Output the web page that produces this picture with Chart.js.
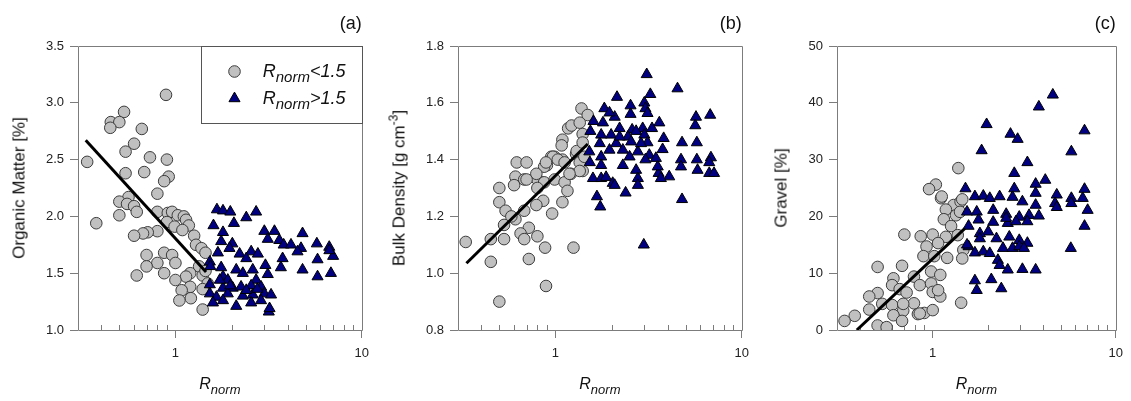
<!DOCTYPE html>
<html lang="en">
<head>
<meta charset="utf-8">
<title>Rnorm scatter panels</title>
<script src="https://cdn.jsdelivr.net/npm/chart.js@4.4.1/dist/chart.umd.min.js"></script>
<style>
    html, body { margin: 0; padding: 0; background: #ffffff; }
    #figure { position: relative; width: 1131px; height: 401px; overflow: hidden;
              font-family: "Liberation Sans", Arial, sans-serif; color: #111; }
    .panel { position: absolute; top: 0; height: 401px; }
    .panel canvas { position: absolute; left: 0; top: 0; }
    .txt { position: absolute; white-space: nowrap; line-height: 1; }
    .ytitle { font-size: 17px; transform: translate(-50%, -50%) rotate(-90deg); }
    .xtitle { font-size: 16px; font-style: italic; transform: translateX(-50%); }
    .tag { font-size: 18px; transform: translateX(-100%); }
    .legend-item { font-size: 18px; font-style: italic; }
    .sub { font-size: 13px; position: relative; top: 5px; }
    .legend-item .sub { font-size: 15px; top: 5px; }
    .sup { font-size: 12px; position: relative; top: -7px; }
</style>
</head>
<body>
<div id="figure"></div>
<script>
// tick values
const xMajorTicks = [1, 10];
const xMinorTicks = [0.4, 0.5, 0.6, 0.7, 0.8, 0.9, 2, 3, 4, 5, 6, 7, 8, 9];
const omTicks = [1.0, 1.5, 2.0, 2.5, 3.0, 3.5];
const bdTicks = [0.8, 1.0, 1.2, 1.4, 1.6, 1.8];
const grTicks = [0, 10, 20, 30, 40, 50];

// (a) organic matter, Rnorm < 1.5
const omLowR = [0.89, 0.53, 0.45, 0.50, 0.447, 0.66, 0.60, 0.54, 0.336, 0.73,
    0.90, 0.54, 0.68, 0.92, 0.87, 0.80, 0.56, 0.50, 0.55, 0.60,
    0.50, 0.62, 0.80, 0.91, 0.96, 1.03, 1.11, 0.376, 1.14, 1.18,
    0.90, 0.99, 1.09, 0.80, 0.71, 0.67, 0.60, 1.26, 1.29, 1.38,
    1.45, 0.70, 0.87, 0.96, 1.00, 0.80, 0.70, 1.34, 0.62, 0.87,
    1.20, 1.14, 1.00, 1.40, 1.49, 1.20, 1.08, 1.40, 1.21, 1.05,
    1.40, 1.45];
const omLowVal = [3.07, 2.92, 2.83, 2.83, 2.78, 2.77, 2.64, 2.57, 2.48, 2.52,
    2.50, 2.38, 2.39, 2.35, 2.31, 2.20, 2.17, 2.13, 2.11, 2.09,
    2.01, 2.04, 2.04, 2.03, 2.04, 2.01, 2.00, 1.94, 1.97, 1.92,
    1.95, 1.91, 1.88, 1.87, 1.86, 1.85, 1.83, 1.83, 1.75, 1.72,
    1.68, 1.66, 1.68, 1.66, 1.59, 1.59, 1.56, 1.56, 1.48, 1.50,
    1.50, 1.47, 1.44, 1.48, 1.41, 1.38, 1.35, 1.36, 1.28, 1.26,
    1.18, 1.52];
// (a) organic matter, Rnorm > 1.5
const omHighR = [1.67, 1.80, 1.97, 2.40, 2.71, 1.60, 2.06, 1.80, 3.00, 3.40,
    4.81, 1.76, 2.02, 3.13, 3.61, 3.81, 4.17, 4.72, 5.74, 6.69,
    7.02, 6.70, 1.69, 1.95, 2.21, 2.55, 2.77, 2.40, 3.76, 4.52,
    5.79, 1.53, 1.76, 2.12, 2.60, 3.04, 3.68, 4.81, 5.79, 6.83,
    1.54, 1.80, 2.30, 3.13, 1.91, 2.71, 1.53, 1.80, 2.03, 2.25,
    2.55, 2.88, 3.00, 3.26, 1.53, 1.66, 1.91, 2.30, 2.60, 1.59,
    1.80, 2.12, 2.55, 2.88, 3.17, 3.20, 1.97, 1.73, 2.40, 2.75];
const omHighVal = [2.06, 2.05, 2.04, 1.99, 2.04, 1.92, 1.94, 1.86, 1.87, 1.87,
    1.85, 1.78, 1.76, 1.80, 1.79, 1.75, 1.75, 1.72, 1.76, 1.73,
    1.65, 1.70, 1.68, 1.72, 1.67, 1.69, 1.67, 1.63, 1.63, 1.69,
    1.62, 1.60, 1.55, 1.53, 1.53, 1.57, 1.55, 1.53, 1.47, 1.50,
    1.56, 1.47, 1.50, 1.49, 1.44, 1.44, 1.40, 1.37, 1.37, 1.38,
    1.39, 1.38, 1.32, 1.31, 1.32, 1.29, 1.32, 1.30, 1.31, 1.24,
    1.26, 1.21, 1.24, 1.26, 1.16, 1.19, 1.39, 1.44, 1.35, 1.36];
const omFitR = [0.33, 1.46];
const omFitVal = [2.67, 1.51];

// (b) bulk density, Rnorm < 1.5
const bdLowR = [0.62, 0.70, 0.90, 0.87, 0.99, 1.09, 0.95, 1.29, 0.61, 0.68,
    0.60, 0.80, 0.87, 0.99, 0.80, 1.12, 1.21, 1.40, 0.50, 1.16,
    0.86, 0.50, 1.09, 0.79, 0.54, 0.61, 0.68, 0.58, 0.96, 0.53,
    0.72, 0.65, 0.33, 0.45, 0.53, 0.68, 0.80, 0.88, 1.25, 0.45,
    0.72, 0.89, 0.50, 1.38, 1.49, 1.17, 1.22, 1.35, 1.40, 1.09,
    1.08, 0.97, 1.03, 1.12, 1.30, 1.35, 1.43, 1.35, 1.19, 0.89,
    0.79, 0.70, 1.40];
const bdLowVal = [1.39, 1.39, 1.38, 1.375, 1.41, 1.40, 1.41, 1.42, 1.34, 1.33,
    1.31, 1.33, 1.32, 1.33, 1.30, 1.32, 1.35, 1.36, 1.30, 1.29,
    1.255, 1.25, 1.25, 1.24, 1.22, 1.19, 1.22, 1.20, 1.21, 1.17,
    1.16, 1.14, 1.11, 1.12, 1.12, 1.12, 1.13, 1.09, 1.09, 1.04,
    1.05, 0.955, 0.90, 1.58, 1.557, 1.51, 1.52, 1.53, 1.49, 1.47,
    1.45, 1.41, 1.40, 1.39, 1.43, 1.39, 1.41, 1.36, 1.35, 1.39,
    1.35, 1.33, 1.46];
// (b) bulk density, Rnorm > 1.5
const bdHighR = [3.09, 4.52, 3.23, 2.14, 1.83, 2.53, 3.00, 3.04, 2.53, 2.08,
    1.95, 5.68, 6.77, 5.63, 1.60, 1.80, 2.21, 2.58, 2.94, 3.30,
    3.61, 1.54, 1.76, 1.99, 2.45, 2.71, 3.00, 3.12, 3.81, 4.78,
    5.74, 1.73, 2.12, 2.55, 1.95, 2.30, 2.77, 3.19, 3.76, 1.52,
    1.76, 1.53, 2.50, 3.04, 3.46, 4.72, 5.74, 6.83, 6.69, 2.30,
    4.72, 1.76, 2.71, 3.58, 4.08, 5.79, 6.69, 7.10, 1.59, 1.76,
    1.87, 2.03, 2.08, 2.77, 2.77, 3.68, 2.38, 1.67, 1.74, 4.78,
    2.98, 3.12, 2.88, 2.21, 3.54];
const bdHighVal = [1.70, 1.65, 1.63, 1.62, 1.58, 1.59, 1.60, 1.58, 1.56, 1.55,
    1.565, 1.55, 1.557, 1.52, 1.535, 1.53, 1.51, 1.505, 1.51, 1.51,
    1.53, 1.50, 1.487, 1.487, 1.48, 1.50, 1.487, 1.46, 1.475, 1.46,
    1.46, 1.457, 1.457, 1.463, 1.434, 1.434, 1.428, 1.416, 1.436, 1.428,
    1.41, 1.39, 1.41, 1.40, 1.405, 1.40, 1.40, 1.407, 1.39, 1.38,
    1.375, 1.38, 1.363, 1.352, 1.34, 1.363, 1.352, 1.352, 1.334, 1.334,
    1.338, 1.317, 1.31, 1.334, 1.31, 1.334, 1.283, 1.27, 1.234, 1.26,
    1.10, 1.563, 1.457, 1.48, 1.375];
const bdFitR = [0.333, 1.49];
const bdFitVal = [1.035, 1.455];

// (c) gravel, Rnorm < 1.5
const grLowR = [1.38, 1.04, 0.955, 1.11, 1.30, 1.42, 1.18, 1.34, 1.15, 1.41,
    1.26, 0.70, 0.86, 1.00, 1.18, 1.37, 0.925, 1.07, 0.89, 1.02,
    1.20, 1.47, 0.50, 0.68, 0.61, 0.79, 0.98, 1.10, 0.60, 0.66,
    0.85, 0.98, 0.50, 0.45, 0.72, 1.00, 1.10, 0.53, 0.60, 0.79,
    1.43, 0.45, 0.69, 0.90, 1.00, 0.83, 0.375, 0.33, 0.61, 0.50,
    0.56, 0.68, 0.85, 1.12, 1.45, 1.45, 0.69, 1.07];
const grLowVal = [28.5, 25.6, 24.8, 23.2, 22.0, 22.6, 21.2, 20.2, 19.5, 20.8,
    18.3, 16.8, 16.5, 16.8, 16.4, 16.7, 14.7, 15.3, 13.0, 13.0,
    12.7, 14.1, 11.1, 11.3, 9.1, 9.4, 10.3, 9.7, 7.9, 7.2,
    7.9, 8.2, 6.5, 5.9, 6.6, 6.7, 5.9, 4.6, 4.4, 4.7,
    4.8, 3.6, 3.4, 3.0, 3.5, 2.8, 2.5, 1.6, 2.6, 0.8,
    0.5, 1.6, 2.9, 23.5, 23.0, 12.6, 4.6, 7.0];
// (c) gravel, Rnorm > 1.5
const grHighR = [4.53, 3.80, 1.97, 6.75, 2.66, 2.91, 1.85, 5.72, 3.29, 2.79,
    4.12, 3.65, 1.51, 2.79, 6.75, 3.65, 1.70, 1.89, 2.05, 2.32,
    2.73, 3.09, 4.76, 5.72, 6.60, 4.66, 5.72, 3.65, 7.02, 4.76,
    1.54, 1.74, 2.14, 2.52, 2.97, 3.36, 3.80, 1.78, 2.01, 1.57,
    2.57, 2.85, 3.29, 6.75, 1.81, 2.23, 2.62, 2.97, 3.29, 1.57,
    1.70, 1.89, 2.05, 2.42, 2.73, 2.97, 3.15, 5.68, 2.27, 2.32,
    2.57, 3.09, 3.65, 1.70, 2.09, 1.74, 2.37, 2.52, 2.14, 1.54,
    1.81];
const grHighVal = [41.4, 39.3, 36.2, 35.1, 34.5, 33.6, 31.6, 31.4, 29.5, 27.6,
    26.4, 25.7, 24.9, 24.9, 24.8, 24.1, 23.5, 23.6, 23.2, 23.5,
    23.4, 22.6, 23.8, 23.2, 23.2, 22.3, 22.3, 22.0, 21.1, 21.6,
    20.8, 20.8, 21.1, 20.4, 19.9, 20.2, 20.1, 19.4, 17.3, 18.3,
    18.8, 19.1, 19.1, 18.3, 17.0, 16.1, 16.4, 15.8, 15.3, 14.7,
    13.6, 13.8, 13.5, 14.4, 14.4, 14.7, 14.4, 14.4, 12.3, 11.4,
    10.6, 10.7, 10.6, 8.7, 8.9, 7.0, 7.3, 19.7, 19.0, 15.0,
    16.1];
const grFitR = [0.385, 1.50];
const grFitVal = [0, 17.9];

// layout / style
const W_AXIS = 40, H_AXIS = 30, PLOT_TOP = 46, PLOT_BOTTOM = 330, FIG_H = 401;
const frameGray = '#7c7c7c';
const tickText = '#222';
const lowFill = '#c0c0c0', lowEdge = '#3c3c3c';
const highFill = '#000080', highEdge = '#000000';
const fontFamily = '"Liberation Sans", Arial, sans-serif';
const subR = 'R<span class="sub">norm</span>';

const panels = [
    { tag: '(a)', left: 0, width: 377, plotLeft: 78, plotRight: 362, yTicks: omTicks, decimals: 1,
      low: [omLowR, omLowVal], high: [omHighR, omHighVal], fit: [omFitR, omFitVal],
      yTitle: 'Organic Matter [%]', yGap: 59, legend: true },
    { tag: '(b)', left: 380, width: 377, plotLeft: 78, plotRight: 363, yTicks: bdTicks, decimals: 1,
      low: [bdLowR, bdLowVal], high: [bdHighR, bdHighVal], fit: [bdFitR, bdFitVal],
      yTitle: 'Bulk Density [g cm<span class="sup">-3</span>]', yGap: 59, legend: false },
    { tag: '(c)', left: 750, width: 381, plotLeft: 87, plotRight: 372, yTicks: grTicks, decimals: 0,
      low: [grLowR, grLowVal], high: [grHighR, grHighVal], fit: [grFitR, grFitVal],
      yTitle: 'Gravel [%]', yGap: 56, legend: false }
];

const figure = document.getElementById('figure');
const toPoints = (xs, ys) => xs.map((x, i) => ({ x: x, y: ys[i] }));

// box round the plot and short inward minor ticks on the log axis
const framePlugin = {
    id: 'frame',
    beforeDatasetsDraw(chart) {
        const { ctx, chartArea: a, scales } = chart;
        ctx.save();
        ctx.strokeStyle = frameGray;
        ctx.lineWidth = 1;
        ctx.beginPath();
        ctx.rect(Math.round(a.left) + 0.5, Math.round(a.top) + 0.5,
            Math.round(a.right - a.left), Math.round(a.bottom - a.top));
        xMinorTicks.forEach(v => {
            const px = Math.round(scales.x.getPixelForValue(v)) + 0.5;
            ctx.moveTo(px, Math.round(a.bottom));
            ctx.lineTo(px, Math.round(a.bottom) - 5);
        });
        ctx.stroke();
        ctx.restore();
    }
};

// legend box (markers only, the text is html)
const legendPlugin = {
    id: 'boxLegend',
    afterDatasetsDraw(chart) {
        const { ctx, chartArea: a } = chart;
        const bx = Math.round(a.right - 161) + 0.5;
        const by = Math.round(a.top) + 0.5;
        ctx.save();
        ctx.fillStyle = '#ffffff';
        ctx.fillRect(bx, by, 161, 77);
        ctx.strokeStyle = '#555';
        ctx.lineWidth = 1;
        ctx.strokeRect(bx, by, 161, 77);

        ctx.beginPath();
        ctx.arc(bx + 33, by + 25, 5.8, 0, Math.PI * 2);
        ctx.fillStyle = lowFill;
        ctx.fill();
        ctx.strokeStyle = lowEdge;
        ctx.stroke();

        const r = 6.4, cx = bx + 33, cy = by + 52;
        ctx.beginPath();
        ctx.moveTo(cx, cy - r);
        ctx.lineTo(cx + 0.866 * r, cy + 0.5 * r);
        ctx.lineTo(cx - 0.866 * r, cy + 0.5 * r);
        ctx.closePath();
        ctx.fillStyle = highFill;
        ctx.fill();
        ctx.strokeStyle = highEdge;
        ctx.stroke();
        ctx.restore();
    }
};

function addText(cls, html, left, top) {
    const el = document.createElement('div');
    el.className = 'txt ' + cls;
    el.innerHTML = html;
    el.style.left = left + 'px';
    el.style.top = top + 'px';
    figure.appendChild(el);
    return el;
}

panels.forEach(p => {
    const box = document.createElement('div');
    box.className = 'panel';
    box.style.left = p.left + 'px';
    box.style.width = p.width + 'px';
    figure.appendChild(box);

    const canvas = document.createElement('canvas');
    canvas.width = p.width;
    canvas.height = FIG_H;
    canvas.style.width = p.width + 'px';
    canvas.style.height = FIG_H + 'px';
    box.appendChild(canvas);

    const chart = new Chart(canvas, {
        type: 'scatter',
        data: {
            datasets: [
                {
                    label: 'fit',
                    data: toPoints(p.fit[0], p.fit[1]),
                    showLine: true,
                    borderColor: '#000000',
                    borderWidth: 3,
                    pointRadius: 0,
                    order: 0
                },
                {
                    label: 'Rnorm>1.5',
                    data: toPoints(p.high[0], p.high[1]),
                    pointStyle: 'triangle',
                    pointRadius: 6.4,
                    pointBackgroundColor: highFill,
                    pointBorderColor: highEdge,
                    pointBorderWidth: 1,
                    order: 1
                },
                {
                    label: 'Rnorm<1.5',
                    data: toPoints(p.low[0], p.low[1]),
                    pointStyle: 'circle',
                    pointRadius: 5.8,
                    pointBackgroundColor: lowFill,
                    pointBorderColor: lowEdge,
                    pointBorderWidth: 1,
                    order: 2
                }
            ]
        },
        options: {
            responsive: false,
            animation: false,
            devicePixelRatio: 1,
            events: [],
            layout: {
                padding: {
                    left: p.plotLeft - W_AXIS,
                    right: p.width - p.plotRight,
                    top: PLOT_TOP,
                    bottom: FIG_H - PLOT_BOTTOM - H_AXIS
                }
            },
            plugins: { legend: { display: false }, tooltip: { enabled: false } },
            scales: {
                x: {
                    type: 'logarithmic',
                    min: 0.3,
                    max: 10,
                    afterFit: s => { s.height = H_AXIS; },
                    afterBuildTicks: s => { s.ticks = xMajorTicks.map(v => ({ value: v })); },
                    grid: { drawOnChartArea: false, drawTicks: true, tickLength: 8, color: frameGray, lineWidth: 1 },
                    border: { display: false },
                    ticks: {
                        autoSkip: false, maxRotation: 0, padding: 8, color: tickText,
                        font: { family: fontFamily, size: 13 },
                        callback: v => String(v)
                    }
                },
                y: {
                    type: 'linear',
                    min: p.yTicks[0],
                    max: p.yTicks[p.yTicks.length - 1],
                    afterFit: s => { s.width = W_AXIS; },
                    afterBuildTicks: s => { s.ticks = p.yTicks.map(v => ({ value: v })); },
                    grid: { drawOnChartArea: false, drawTicks: true, tickLength: 8, color: frameGray, lineWidth: 1 },
                    border: { display: false },
                    ticks: {
                        padding: 6, color: tickText,
                        font: { family: fontFamily, size: 13 },
                        callback: v => Number(v).toFixed(p.decimals)
                    }
                }
            }
        },
        plugins: p.legend ? [framePlugin, legendPlugin] : [framePlugin]
    });

    const a = chart.chartArea;
    addText('ytitle', p.yTitle, p.left + a.left - p.yGap, (a.top + a.bottom) / 2);
    addText('xtitle', subR, p.left + (a.left + a.right) / 2, 376);
    addText('tag', p.tag, p.left + a.right, 14);
    if (p.legend) {
        const lx = p.left + a.right - 161 + 62;
        addText('legend-item', subR + '&lt;1.5', lx, a.top + 16);
        addText('legend-item', subR + '&gt;1.5', lx, a.top + 43);
    }
});
</script>
</body>
</html>
